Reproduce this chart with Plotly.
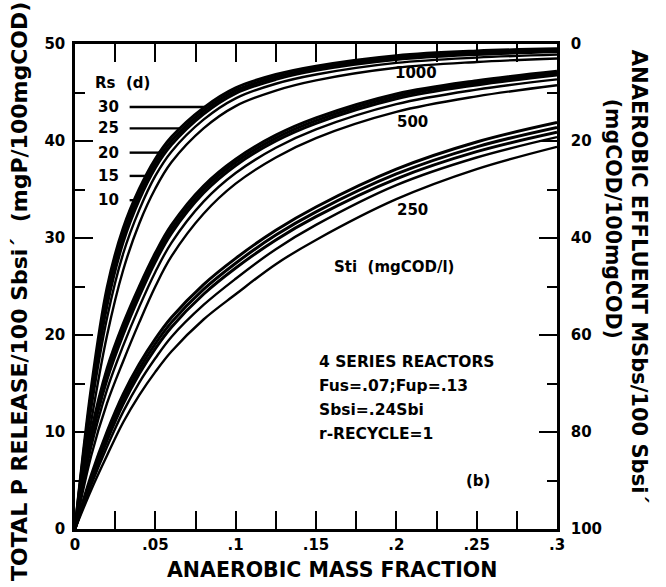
import numpy as np
import plotly.graph_objects as go

# ---- data -------------------------------------------------------------
mass_fraction = [0, 0.01, 0.02, 0.03, 0.04, 0.05, 0.06, 0.08, 0.10, 0.125, 0.15, 0.20, 0.25, 0.30]

rs_days = [30, 25, 20, 15, 10]
sti_levels = [1000, 500, 250]

# total P release (mgP/100mgCOD), Sti = 1000 mgCOD/l
p1000_rs30 = [0, 14.4, 24.9, 31.0, 35.05, 38.15, 40.4, 43.42, 45.48, 46.85, 47.72, 48.8, 49.28, 49.51]
p1000_rs25 = [0, 13.8, 24.0, 30.3, 34.5, 37.7, 40.0, 43.1, 45.2, 46.6, 47.5, 48.6, 49.1, 49.35]
p1000_rs20 = [0, 13.2, 23.1, 29.6, 33.95, 37.25, 39.6, 42.78, 44.92, 46.35, 47.28, 48.4, 48.92, 49.19]
p1000_rs15 = [0, 12.3, 21.8, 28.4, 32.9, 36.4, 38.9, 42.2, 44.4, 45.9, 46.85, 48.05, 48.6, 48.9]
p1000_rs10 = [0, 11.0, 20.0, 26.7, 31.5, 35.1, 37.8, 41.3, 43.6, 45.2, 46.25, 47.55, 48.15, 48.5]

# Sti = 500 mgCOD/l
p500_rs30 = [0, 9.9, 16.55, 21.15, 25.0, 28.45, 31.32, 35.36, 38.12, 40.6, 42.38, 44.85, 46.22, 47.2]
p500_rs25 = [0, 9.5, 16.0, 20.6, 24.5, 28.0, 30.9, 35.0, 37.8, 40.3, 42.1, 44.6, 46.0, 47.0]
p500_rs20 = [0, 9.1, 15.45, 20.05, 24.0, 27.55, 30.48, 34.64, 37.48, 40.0, 41.82, 44.35, 45.78, 46.8]
p500_rs15 = [0, 8.4, 14.4, 18.9, 22.9, 26.5, 29.5, 33.75, 36.7, 39.3, 41.2, 43.8, 45.3, 46.35]
p500_rs10 = [0, 7.5, 13.0, 17.3, 21.3, 25.0, 28.1, 32.5, 35.6, 38.3, 40.3, 43.0, 44.6, 45.75]

# Sti = 250 mgCOD/l
p250_rs30 = [0, 5.5, 10.05, 13.9, 17.0, 19.6, 21.8, 25.2, 27.9, 30.8, 33.2, 37.1, 39.9, 41.9]
p250_rs25 = [0, 5.2, 9.6, 13.4, 16.5, 19.1, 21.3, 24.7, 27.4, 30.3, 32.7, 36.6, 39.4, 41.4]
p250_rs20 = [0, 4.9, 9.15, 12.9, 16.0, 18.6, 20.8, 24.2, 26.9, 29.8, 32.2, 36.1, 38.9, 40.9]
p250_rs15 = [0, 4.5, 8.5, 12.1, 15.1, 17.6, 19.8, 23.1, 25.8, 28.85, 31.35, 35.45, 38.3, 40.4]
p250_rs10 = [0, 4.0, 7.6, 11.0, 13.8, 16.2, 18.3, 21.6, 24.2, 27.3, 29.8, 34.0, 37.1, 39.4]

x_tick_vals = [0, 0.05, 0.10, 0.15, 0.20, 0.25, 0.30]
x_tick_text = ["0", ".05", ".1", ".15", ".2", ".25", ".3"]
y_tick_vals = [0, 10, 20, 30, 40, 50]
y2_tick_vals = [0, 20, 40, 60, 80, 100]

curves = {
    1000: [p1000_rs30, p1000_rs25, p1000_rs20, p1000_rs15, p1000_rs10],
    500: [p500_rs30, p500_rs25, p500_rs20, p500_rs15, p500_rs10],
    250: [p250_rs30, p250_rs25, p250_rs20, p250_rs15, p250_rs10],
}

# ---- figure -----------------------------------------------------------
FONT = "DejaVu Sans"
fig = go.Figure()

for sti in sti_levels:
    for rs, ys in zip(rs_days, curves[sti]):
        fig.add_trace(go.Scatter(
            x=mass_fraction, y=ys, mode="lines",
            line=dict(color="black", width=3.0 if rs >= 20 else 2.4,
                      shape="spline", smoothing=1.0),
            name=f"Sti={sti}, Rs={rs}", showlegend=False, hoverinfo="skip"))

# Rs leader lines run from the labels to the Sti=1000 bundle
leader_y = [43.5, 41.3, 38.8, 36.4, 33.9]
leader_x0 = 0.034
for rs, ly in zip(rs_days, leader_y):
    x_end = float(np.interp(ly, p1000_rs30, mass_fraction))
    fig.add_trace(go.Scatter(x=[leader_x0, x_end], y=[ly, ly], mode="lines",
                             line=dict(color="black", width=2.4),
                             showlegend=False, hoverinfo="skip"))
    fig.add_annotation(x=0.0128, y=ly, text=str(rs), showarrow=False,
                       xanchor="left", yanchor="middle",
                       font=dict(family=FONT, size=15, weight="bold"))

fig.add_annotation(x=0.0115, y=46.0, text="Rs&nbsp;&nbsp;(d)", showarrow=False,
                   xanchor="left", yanchor="middle",
                   font=dict(family=FONT, size=15, weight="bold"))

# Sti labels
for sti, (lx, ly) in zip(sti_levels, [(0.2125, 47.0), (0.210, 42.0), (0.210, 32.9)]):
    fig.add_annotation(x=lx, y=ly, text=str(sti), showarrow=False,
                       font=dict(family=FONT, size=15, weight="bold"))
fig.add_annotation(x=0.1985, y=27.0, text="Sti&nbsp;&nbsp;(mgCOD/l)", showarrow=False,
                   font=dict(family=FONT, size=15, weight="bold"))

info_lines = ["4 SERIES REACTORS", "Fus=.07;Fup=.13", "Sbsi=.24Sbi", "r-RECYCLE=1"]
for i, line in enumerate(info_lines):
    fig.add_annotation(x=0.1505, y=17.2 - i * 2.47, text=line, showarrow=False,
                       xanchor="left", yanchor="middle",
                       font=dict(family=FONT, size=15.5, weight="bold"))
fig.add_annotation(x=0.251, y=5.0, text="(b)", showarrow=False,
                   font=dict(family=FONT, size=15, weight="bold"))

# invisible trace to carry the right-hand axis
fig.add_trace(go.Scatter(x=[0, 0.3], y=[0, 100], yaxis="y2", mode="lines",
                         line=dict(color="rgba(0,0,0,0)"), showlegend=False,
                         hoverinfo="skip"))

tick_font = dict(family=FONT, size=15, color="black", weight="bold")
axis_common = dict(showline=True, linecolor="black", linewidth=2.5,
                   ticks="inside", ticklen=18, tickwidth=2.2, tickcolor="black",
                   showgrid=False, zeroline=False, tickfont=tick_font)

fig.update_layout(
    width=666, height=587,
    margin=dict(l=75, r=109, t=44, b=58),
    paper_bgcolor="white", plot_bgcolor="white",
    font=dict(family=FONT, color="black"),
    xaxis=dict(range=[0, 0.3], tickvals=x_tick_vals, ticktext=x_tick_text,
               mirror="allticks",
               minor=dict(ticks="inside", ticklen=10, tickwidth=2.2,
                          tickcolor="black", dtick=0.025, tick0=0, showgrid=False),
               **axis_common),
    yaxis=dict(range=[0, 50], tickvals=y_tick_vals, ticklabelstandoff=4,
               minor=dict(ticks="inside", ticklen=10, tickwidth=2.2,
                          tickcolor="black", dtick=5, tick0=0, showgrid=False),
               **axis_common),
    yaxis2=dict(range=[100, 0], tickvals=y2_tick_vals, overlaying="y", side="right",
                ticklabelstandoff=8,
                minor=dict(ticks="inside", ticklen=10, tickwidth=2.2,
                           tickcolor="black", dtick=10, tick0=0, showgrid=False),
                **axis_common),
)

title_font = dict(family=FONT, size=20.5, color="black", weight="bold")
fig.add_annotation(xref="paper", yref="paper", x=0.533, y=-0.085,
                   xanchor="center", yanchor="middle",
                   text="ANAEROBIC MASS FRACTION", showarrow=False,
                   font=title_font)
fig.add_annotation(xref="paper", yref="paper", x=-0.114, y=0.489, textangle=-90,
                   xanchor="center", yanchor="middle",
                   text="TOTAL P RELEASE/100 Sbsi´&nbsp;&nbsp;(mgP/100mgCOD)",
                   showarrow=False, font=dict(title_font, size=22))
fig.add_annotation(xref="paper", yref="paper", x=1.170, y=0.52, textangle=90,
                   xanchor="center", yanchor="middle",
                   text="ANAEROBIC EFFLUENT MSbs/100 Sbsi´", showarrow=False,
                   font=dict(title_font, size=21))
fig.add_annotation(xref="paper", yref="paper", x=1.118, y=0.64, textangle=90,
                   xanchor="center", yanchor="middle",
                   text="(mgCOD/100mgCOD)", showarrow=False, font=title_font)

fig.write_html("out.html")
